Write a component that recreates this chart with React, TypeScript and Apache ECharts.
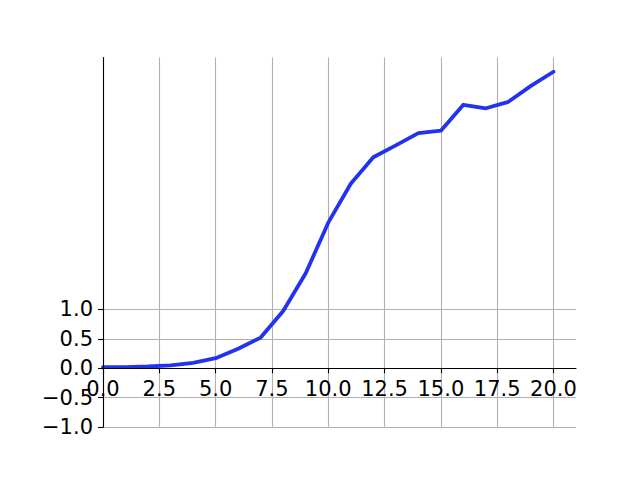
import React, { useEffect, useRef } from "react";
import * as echarts from "echarts";

const xValues = [0, 1, 2, 3, 4, 5, 6, 7, 8, 9, 10, 11, 12, 13, 14, 15, 16, 17, 18, 19, 20];
const yValues = [0.02, 0.02, 0.03, 0.05, 0.09, 0.17, 0.33, 0.52, 0.97, 1.61, 2.47, 3.13, 3.58, 3.78, 3.99, 4.03, 4.47, 4.41, 4.52, 4.79, 5.03];
const xTicks = [0, 2.5, 5, 7.5, 10, 12.5, 15, 17.5, 20];
const yTicks = [-1, -0.5, 0, 0.5, 1];

const Y_MIN = -1;
const Y_MAX = 5.27;
const GRID_TOP = 57.6;
const GRID_BOTTOM = 52.8;
const HEIGHT = 480;

const fmt = (v: number) => {
  const s = Math.abs(v).toFixed(1);
  return v < 0 ? "\u2212" + s : s;
};

export default function App() {
  const ref = useRef<HTMLDivElement>(null);
  useEffect(() => {
    const chart = echarts.init(ref.current!, null, { renderer: "svg" });
    const font = { fontFamily: "DejaVu Sans", fontSize: 21, color: "#000" };
    const gridStyle = { color: "#b0b0b0", width: 1.1, type: "solid" as const };
    const plotH = HEIGHT - GRID_TOP - GRID_BOTTOM;
    const zeroOffset = -((0 - Y_MIN) / (Y_MAX - Y_MIN)) * plotH;
    chart.setOption({
      animation: false,
      backgroundColor: "#fff",
      grid: { left: 103, right: 64, top: GRID_TOP, bottom: GRID_BOTTOM, outerBoundsMode: "none", containLabel: false },
      xAxis: {
        type: "value",
        min: 0,
        max: 21,
        interval: 2.5,
        z: 3,
        position: "bottom",
        offset: zeroOffset,
        axisLine: { show: true, onZero: false, lineStyle: { color: "#000", width: 1.1 } },
        axisTick: { show: true, length: 5, inside: false, customValues: xTicks, lineStyle: { color: "#000", width: 1.1 } },
        axisLabel: { ...font, margin: 10, customValues: xTicks, formatter: (v: number) => v.toFixed(1) },
        splitLine: { show: false },
      },
      yAxis: {
        type: "value",
        min: Y_MIN,
        max: Y_MAX,
        interval: 0.5,
        z: 3,
        axisLine: { show: true, onZero: false, lineStyle: { color: "#000", width: 1.1 } },
        axisTick: { show: true, length: 5, inside: false, customValues: yTicks, lineStyle: { color: "#000", width: 1.1 } },
        axisLabel: { ...font, margin: 10, customValues: yTicks, formatter: (v: number) => fmt(v) },
        splitLine: { show: false },
      },
      series: [
        {
          type: "line",
          data: [],
          z: 1,
          silent: true,
          markLine: {
            z: 1,
            silent: true,
            symbol: ["none", "none"],
            label: { show: false },
            lineStyle: gridStyle,
            emphasis: { disabled: true },
            data: [
              ...xTicks.map((x) => ({ xAxis: x })),
              ...yTicks.map((y) => ({ yAxis: y })),
            ],
          },
        },
        {
          type: "line",
          z: 2,
          data: xValues.map((x, i) => [x, yValues[i]]),
          showSymbol: false,
          symbol: "none",
          lineStyle: { color: "#2233ee", width: 3.8, join: "round", cap: "round" },
          itemStyle: { color: "#2233ee" },
        },
      ],
    });
    return () => chart.dispose();
  }, []);
  return <div ref={ref} style={{ width: 640, height: 480, position: "absolute", left: 0, top: 0 }} />;
}
